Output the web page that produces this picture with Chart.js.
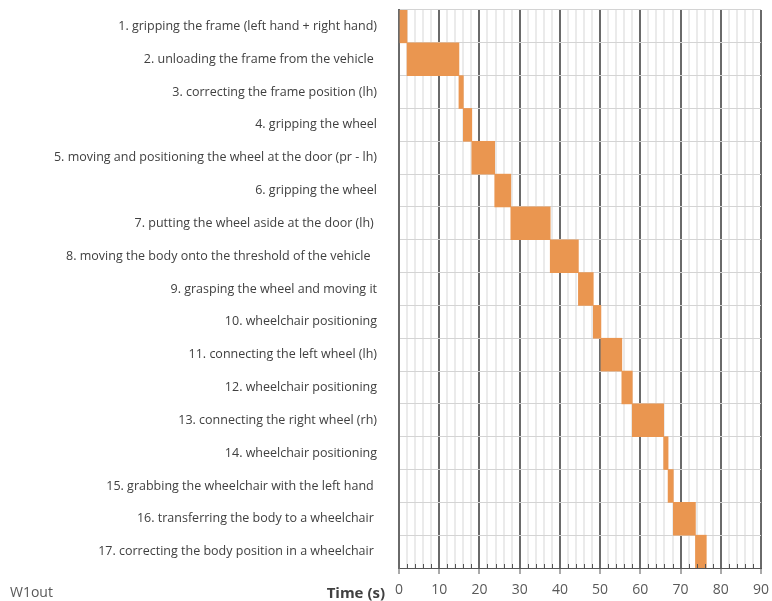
<!DOCTYPE html>
<html lang="en">
<head>
    <meta charset="UTF-8" />
    <title>W1out task timeline</title>
    <script src="https://cdn.jsdelivr.net/npm/chart.js"></script>
    <style>
        body { margin: 0; background: #ffffff; }
        .wrap { position: relative; width: 772px; height: 601px; }
    </style>
</head>
<body>
<div class="wrap"><canvas id="gantt" width="772" height="601"></canvas></div>

<script>
    // tasks (top to bottom)
    const tasks = [
        '1. gripping the frame (left hand + right hand)',
        '2. unloading the frame from the vehicle ',
        '3. correcting the frame position (lh)',
        '4. gripping the wheel',
        '5. moving and positioning the wheel at the door (pr - lh)',
        '6. gripping the wheel',
        '7. putting the wheel aside at the door (lh) ',
        '8. moving the body onto the threshold of the vehicle  ',
        '9. grasping the wheel and moving it',
        '10. wheelchair positioning',
        '11. connecting the left wheel (lh)',
        '12. wheelchair positioning',
        '13. connecting the right wheel (rh)',
        '14. wheelchair positioning',
        '15. grabbing the wheelchair with the left hand ',
        '16. transferring the body to a wheelchair ',
        '17. correcting the body position in a wheelchair '
    ];
    // start / end times in seconds
    const startTimes = [0, 2, 14.9, 16, 18.1, 23.8, 27.8, 37.6, 44.6, 48.3, 50.2, 55.4, 58.0, 65.8, 66.9, 68.2, 73.7];
    const endTimes   = [2, 14.9, 16, 18.1, 23.8, 27.8, 37.6, 44.6, 48.3, 50.2, 55.4, 58.0, 65.8, 66.9, 68.2, 73.7, 76.4];
    const timeMin = 0, timeMax = 90, timeStep = 2;

    const textFont = "'Open Sans', 'Liberation Sans', Arial, sans-serif";

    // small inside ticks + side texts
    const extras = {
        id: 'extras',
        afterDraw(chart) {
            const ctx = chart.ctx;
            const xs = chart.scales.x;
            const bottom = chart.chartArea.bottom;
            ctx.save();
            ctx.strokeStyle = '#555';
            ctx.lineWidth = 1;
            for (let v = timeMin; v <= timeMax; v += timeStep) {
                if (v % 10 === 0) continue;
                const px = Math.round(xs.getPixelForValue(v)) + 0.5;
                ctx.beginPath();
                ctx.moveTo(px, bottom);
                ctx.lineTo(px, bottom - 4);
                ctx.stroke();
            }
            ctx.fillStyle = '#404040';
            ctx.textBaseline = 'middle';
            ctx.font = "bold 15px " + textFont;
            ctx.textAlign = 'right';
            ctx.fillText('Time (s)', 385, 594);
            ctx.font = "14px " + textFont;
            ctx.textAlign = 'left';
            ctx.fillStyle = '#595959';
            ctx.fillText('W1out', 10, 593);
            ctx.restore();
        }
    };

    new Chart(document.getElementById('gantt'), {
        type: 'bar',
        data: {
            labels: tasks,
            datasets: [{
                data: tasks.map((t, i) => [startTimes[i], endTimes[i]]),
                backgroundColor: '#EA9650',
                borderWidth: 0,
                barPercentage: 1,
                categoryPercentage: 1
            }]
        },
        options: {
            indexAxis: 'y',
            responsive: false,
            animation: false,
            layout: { padding: { top: 10, right: 11, left: 0, bottom: 0 } },
            plugins: { legend: { display: false }, tooltip: { enabled: false } },
            scales: {
                x: {
                    min: timeMin,
                    max: timeMax,
                    afterFit: s => { s.height = 33; s.paddingLeft = 0; s.paddingRight = 0; },
                    ticks: {
                        stepSize: timeStep,
                        autoSkip: false,
                        maxRotation: 0,
                        padding: 8,
                        color: '#595959',
                        font: { family: textFont, size: 14 },
                        callback: v => (v % 10 === 0 ? v : '')
                    },
                    grid: {
                        color: c => (c.tick && c.tick.value % 10 === 0 ? '#6a6a6a' : '#ebebeb'),
                        lineWidth: 2,
                        tickColor: c => (c.tick && c.tick.value % 10 === 0 ? '#555' : 'rgba(0,0,0,0)'),
                        tickLength: 6,
                        tickWidth: 1
                    },
                    border: { color: '#555', width: 1 }
                },
                y: {
                    afterFit: s => { s.width = 399; s.paddingTop = 0; s.paddingBottom = 0; },
                    ticks: {
                        padding: 22,
                        color: '#404040',
                        font: { family: textFont, size: 12.5 }
                    },
                    grid: { color: '#d4d4d4', lineWidth: 1, drawTicks: false },
                    border: { color: '#6a6a6a', width: 2 }
                }
            }
        },
        plugins: [extras]
    });
</script>
</body>
</html>
